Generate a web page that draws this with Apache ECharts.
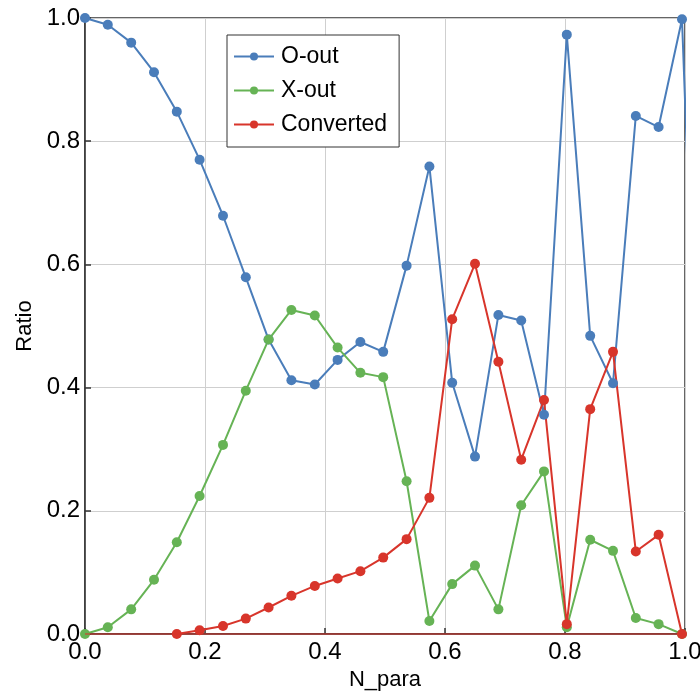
<!DOCTYPE html>
<html>
<head>
<meta charset="utf-8">
<script src="https://cdn.jsdelivr.net/npm/echarts@6/dist/echarts.min.js"></script>
<style>
  html, body { margin: 0; padding: 0; background: #fff; }
  #chart { width: 700px; height: 699px; }
</style>
</head>
<body>
<div id="chart"></div>
<script>
// Sampled N_para positions
const nPara = [0, 0.038, 0.077, 0.115, 0.153, 0.191, 0.230, 0.268, 0.306, 0.344,
  0.383, 0.421, 0.459, 0.497, 0.536, 0.574, 0.612, 0.650, 0.689, 0.727,
  0.765, 0.803, 0.842, 0.880, 0.918, 0.956, 0.995, 1.033];

const oOut = [1.0, 0.989, 0.960, 0.912, 0.848, 0.770, 0.679, 0.579, 0.478, 0.412,
  0.405, 0.445, 0.474, 0.458, 0.598, 0.759, 0.408, 0.288, 0.518, 0.509,
  0.356, 0.973, 0.484, 0.407, 0.841, 0.823, 0.998, 0.0];

const xOut = [0.0, 0.011, 0.040, 0.088, 0.149, 0.224, 0.307, 0.395, 0.478, 0.526,
  0.517, 0.465, 0.424, 0.417, 0.248, 0.021, 0.081, 0.111, 0.040, 0.209,
  0.264, 0.011, 0.153, 0.135, 0.026, 0.016, 0.0, null];

const converted = [null, null, null, null, 0.0, 0.006, 0.013, 0.025, 0.043, 0.062,
  0.078, 0.090, 0.102, 0.124, 0.154, 0.221, 0.511, 0.601, 0.442, 0.283,
  0.380, 0.016, 0.365, 0.458, 0.134, 0.161, 0.0, null];

const xTicks = [0, 0.2, 0.4, 0.6, 0.8, 1.0];

const colors = { o: '#4a7dba', x: '#66b355', c: '#d8352b' };
const font = 'Liberation Sans, Arial, Helvetica, sans-serif';

function pairs(ys) {
  return nPara.map((x, i) => [x, ys[i]]);
}

function lineSeries(name, ys, color, extra) {
  return Object.assign({
    name: name,
    type: 'line',
    data: pairs(ys),
    color: color,
    symbol: 'circle',
    symbolSize: 10,
    showAllSymbol: true,
    connectNulls: false,
    clip: true,
    lineStyle: { width: 2, color: color },
    itemStyle: { color: color },
    emphasis: { disabled: true },
    animation: false
  }, extra || {});
}

const chart = echarts.init(document.getElementById('chart'), null, { renderer: 'canvas' });

chart.setOption({
  backgroundColor: '#fff',
  animation: false,
  grid: {
    left: 85, right: 15, top: 18, bottom: 65,
    containLabel: false,
    outerBoundsMode: 'none',
    show: true, borderColor: '#333', borderWidth: 1.5, backgroundColor: 'transparent'
  },
  legend: {
    orient: 'vertical',
    left: 227, top: 35,
    padding: [10, 12, 11, 6],
    itemGap: 11,
    itemWidth: 40, itemHeight: 10,
    borderColor: '#333', borderWidth: 1, borderRadius: 0,
    backgroundColor: '#fff',
    textStyle: { fontFamily: font, fontSize: 23, color: '#000', padding: [0, 0, 0, 2] },
    data: ['O-out', 'X-out', 'Converted']
  },
  xAxis: {
    type: 'value',
    min: 0, max: 1, interval: 0.2,
    name: 'N_para',
    nameLocation: 'middle',
    nameGap: 30,
    nameTextStyle: { fontFamily: font, fontSize: 22, color: '#000' },
    axisLine: { show: true, lineStyle: { color: '#333', width: 1.5 } },
    axisTick: { show: true, inside: true, length: 6, lineStyle: { color: '#333', width: 1.5 } },
    axisLabel: {
      fontFamily: font, fontSize: 24, color: '#000', margin: 6,
      formatter: v => xTicks.indexOf(v) >= 0 ? v.toFixed(1) : ''
    },
    splitLine: { show: true, lineStyle: { color: '#cfcfcf', width: 1 } }
  },
  yAxis: {
    type: 'value',
    min: 0, max: 1, interval: 0.2,
    name: 'Ratio',
    nameLocation: 'middle',
    nameGap: 47,
    nameRotate: 90,
    nameTextStyle: { fontFamily: font, fontSize: 22, color: '#000' },
    axisLine: { show: true, lineStyle: { color: '#333', width: 1.5 } },
    axisTick: { show: true, inside: true, length: 6, lineStyle: { color: '#333', width: 1.5 } },
    axisLabel: {
      fontFamily: font, fontSize: 24, color: '#000', margin: 5,
      formatter: v => v.toFixed(1)
    },
    splitLine: { show: true, lineStyle: { color: '#cfcfcf', width: 1 } }
  },
  series: [
    lineSeries('O-out', oOut, colors.o),
    lineSeries('X-out', xOut, colors.x),
    lineSeries('Converted', converted, colors.c, {
      markLine: {
        silent: true,
        symbol: 'none',
        label: { show: false },
        lineStyle: { color: colors.c, width: 1.5, type: 'solid', opacity: 0.7 },
        data: [{ yAxis: 0 }],
        animation: false
      }
    })
  ]
});
</script>
</body>
</html>
